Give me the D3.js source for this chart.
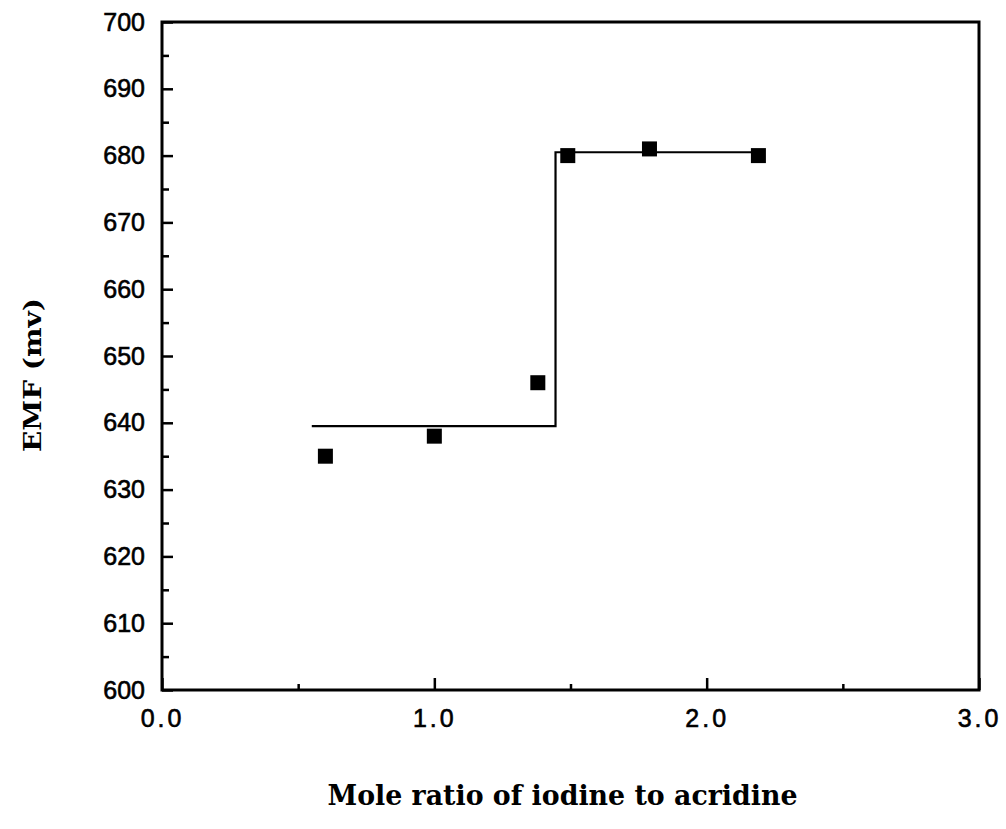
<!DOCTYPE html>
<html>
<head>
<meta charset="utf-8">
<script src="https://cdn.jsdelivr.net/npm/d3@7"></script>
<style>
  body { margin: 0; background: #fff; }
  svg { display: block; }
</style>
</head>
<body>
<svg id="chart" width="1006" height="829"></svg>
<script>
// measured points
var ratio = [0.6, 1.0, 1.38, 1.49, 1.79, 2.19];
var emf   = [635, 638, 646, 680, 681, 680];

// fitted step line
var stepX = [0.55, 1.445, 1.445, 2.19];
var stepY = [639.5, 639.5, 680.5, 680.5];

var xMajor = [0, 1, 2, 3];
var xMinor = [0.5, 1.5, 2.5];
var yMajor = [600, 610, 620, 630, 640, 650, 660, 670, 680, 690, 700];
var yMinor = [605, 615, 625, 635, 645, 655, 665, 675, 685, 695];

var svg = d3.select("#chart"),
    plotLeft = 162, plotRight = 979, plotTop = 22, plotBottom = 690;

var x = d3.scaleLinear().domain([0, 3]).range([plotLeft, plotRight]);
var y = d3.scaleLinear().domain([600, 700]).range([plotBottom, plotTop]);

// ticks (inward)
var xAxis = d3.axisBottom(x).tickValues(xMajor).tickSize(-12).tickPadding(19)
    .tickFormat(d3.format(".1f"));
var gx = svg.append("g").attr("transform", "translate(0," + plotBottom + ")").call(xAxis);
gx.select(".domain").remove();
gx.selectAll("line").attr("stroke", "#000").attr("stroke-width", 2.5);
gx.selectAll("text")
    .style("font", "25px 'Liberation Sans', Arial, sans-serif")
    .style("letter-spacing", "3px")
    .attr("fill", "#000").attr("stroke", "#000").attr("stroke-width", 0.6);

var gxm = svg.append("g").attr("transform", "translate(0," + plotBottom + ")")
    .call(d3.axisBottom(x).tickValues(xMinor).tickSize(-6).tickFormat(""));
gxm.select(".domain").remove();
gxm.selectAll("line").attr("stroke", "#000").attr("stroke-width", 2.5);

var yAxis = d3.axisLeft(y).tickValues(yMajor).tickSize(-11).tickPadding(17);
var gy = svg.append("g").attr("transform", "translate(" + plotLeft + ",0)").call(yAxis);
gy.select(".domain").remove();
gy.selectAll("line").attr("stroke", "#000").attr("stroke-width", 2.5);
gy.selectAll("text")
    .style("font", "25px 'Liberation Sans', Arial, sans-serif")
    .attr("fill", "#000").attr("stroke", "#000").attr("stroke-width", 0.6);

var gym = svg.append("g").attr("transform", "translate(" + plotLeft + ",0)")
    .call(d3.axisLeft(y).tickValues(yMinor).tickSize(-7).tickFormat(""));
gym.select(".domain").remove();
gym.selectAll("line").attr("stroke", "#000").attr("stroke-width", 2.5);

// frame
svg.append("rect")
    .attr("x", plotLeft).attr("y", plotTop)
    .attr("width", plotRight - plotLeft).attr("height", plotBottom - plotTop)
    .attr("fill", "none").attr("stroke", "#000").attr("stroke-width", 3);

// step line
var line = d3.line()
    .x(function(d, i) { return x(stepX[i]); })
    .y(function(d, i) { return y(stepY[i]); });
svg.append("path")
    .datum(stepX)
    .attr("d", line)
    .attr("fill", "none")
    .attr("stroke", "#000")
    .attr("stroke-width", 2.2);

// markers
var s = 15;
svg.append("g").selectAll("rect")
    .data(ratio)
    .enter().append("rect")
    .attr("x", function(d) { return x(d) - s / 2; })
    .attr("y", function(d, i) { return y(emf[i]) - s / 2; })
    .attr("width", s).attr("height", s)
    .attr("fill", "#000");

// titles
svg.append("text")
    .attr("x", (plotLeft + plotRight) / 2 - 8)
    .attr("y", 805)
    .attr("text-anchor", "middle")
    .attr("textLength", 470)
    .attr("lengthAdjust", "spacingAndGlyphs")
    .style("font", "bold 27px 'DejaVu Serif', serif")
    .text("Mole ratio of iodine to acridine");

svg.append("text")
    .attr("transform", "translate(41,375) rotate(-90)")
    .attr("text-anchor", "middle")
    .attr("textLength", 154)
    .attr("lengthAdjust", "spacingAndGlyphs")
    .style("font", "bold 24px 'DejaVu Serif', serif")
    .text("EMF (mv)");
</script>
</body>
</html>
